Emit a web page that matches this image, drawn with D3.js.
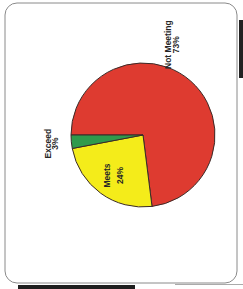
<!DOCTYPE html>
<html>
<head>
<meta charset="utf-8">
<script src="https://cdn.jsdelivr.net/npm/d3@7"></script>
<style>
  html, body { margin: 0; padding: 0; background: #fff; }
  svg { display: block; }
  .lbl { font-family: "Liberation Sans Narrow", "Liberation Sans", Arial, sans-serif; font-size: 8.5px; font-weight: bold; fill: #262626; }
</style>
</head>
<body>
<div id="chart"></div>
<script>
// dados do gráfico (pizza girada 90 graus, como no scan)
const categories = ["Not Meeting", "Meets", "Exceed"];
const values = [73, 24, 3];
const pctLabels = ["73%", "24%", "3%"];
const colors = ["#de3b30", "#f4ec1a", "#2f9a4c"];

const width = 243, height = 289;
const cx = 143, cy = 135, radius = 72;

// posição dos rótulos: [ângulo em graus (null = meio da fatia), raio, espaço entre linhas]
const labelLayout = [[108, 95, 8], [null, 50, 13], [null, 92, 7]];

const svg = d3.select("#chart").append("svg")
  .attr("width", width)
  .attr("height", height);

// moldura arredondada
svg.append("rect")
  .attr("x", 5).attr("y", 3)
  .attr("width", 232).attr("height", 280)
  .attr("rx", 12)
  .attr("fill", "#fff")
  .attr("stroke", "#8a8a8a")
  .attr("stroke-width", 1);

// marcas do scan nas bordas
svg.append("rect").attr("x", 239).attr("y", 20).attr("width", 4).attr("height", 58).attr("fill", "#222");
svg.append("rect").attr("x", 18).attr("y", 285).attr("width", 117).attr("height", 4).attr("fill", "#1e1e1e");
svg.append("line").attr("x1", 175).attr("x2", 243).attr("y1", 284.5).attr("y2", 284.5)
  .attr("stroke", "#aaa").attr("stroke-width", 1);

const g = svg.append("g")
  .attr("transform", `translate(${cx},${cy}) rotate(-90)`);

const pie = d3.pie().sort(null).value(d => d);
const arcs = pie(values);
const arc = d3.arc().innerRadius(0).outerRadius(radius);

g.selectAll("path.slice")
  .data(arcs)
  .enter()
  .append("path")
  .attr("class", "slice")
  .attr("d", arc)
  .attr("fill", (d, i) => colors[i])
  .attr("stroke", "#3b2b28")
  .attr("stroke-width", 1);

// rótulos
arcs.forEach((d, i) => {
  const [deg, r, gap] = labelLayout[i];
  const a = deg === null ? (d.startAngle + d.endAngle) / 2 : deg * Math.PI / 180;
  const x = r * Math.sin(a), y = -r * Math.cos(a);
  const t = g.append("text")
    .attr("class", "lbl")
    .attr("text-anchor", "middle")
    .attr("transform", `translate(${x},${y})`);
  t.append("tspan").attr("x", 0).attr("y", -gap / 2 + 3).text(categories[i]);
  t.append("tspan").attr("x", 0).attr("y", gap / 2 + 3).text(pctLabels[i]);
});
</script>
</body>
</html>
